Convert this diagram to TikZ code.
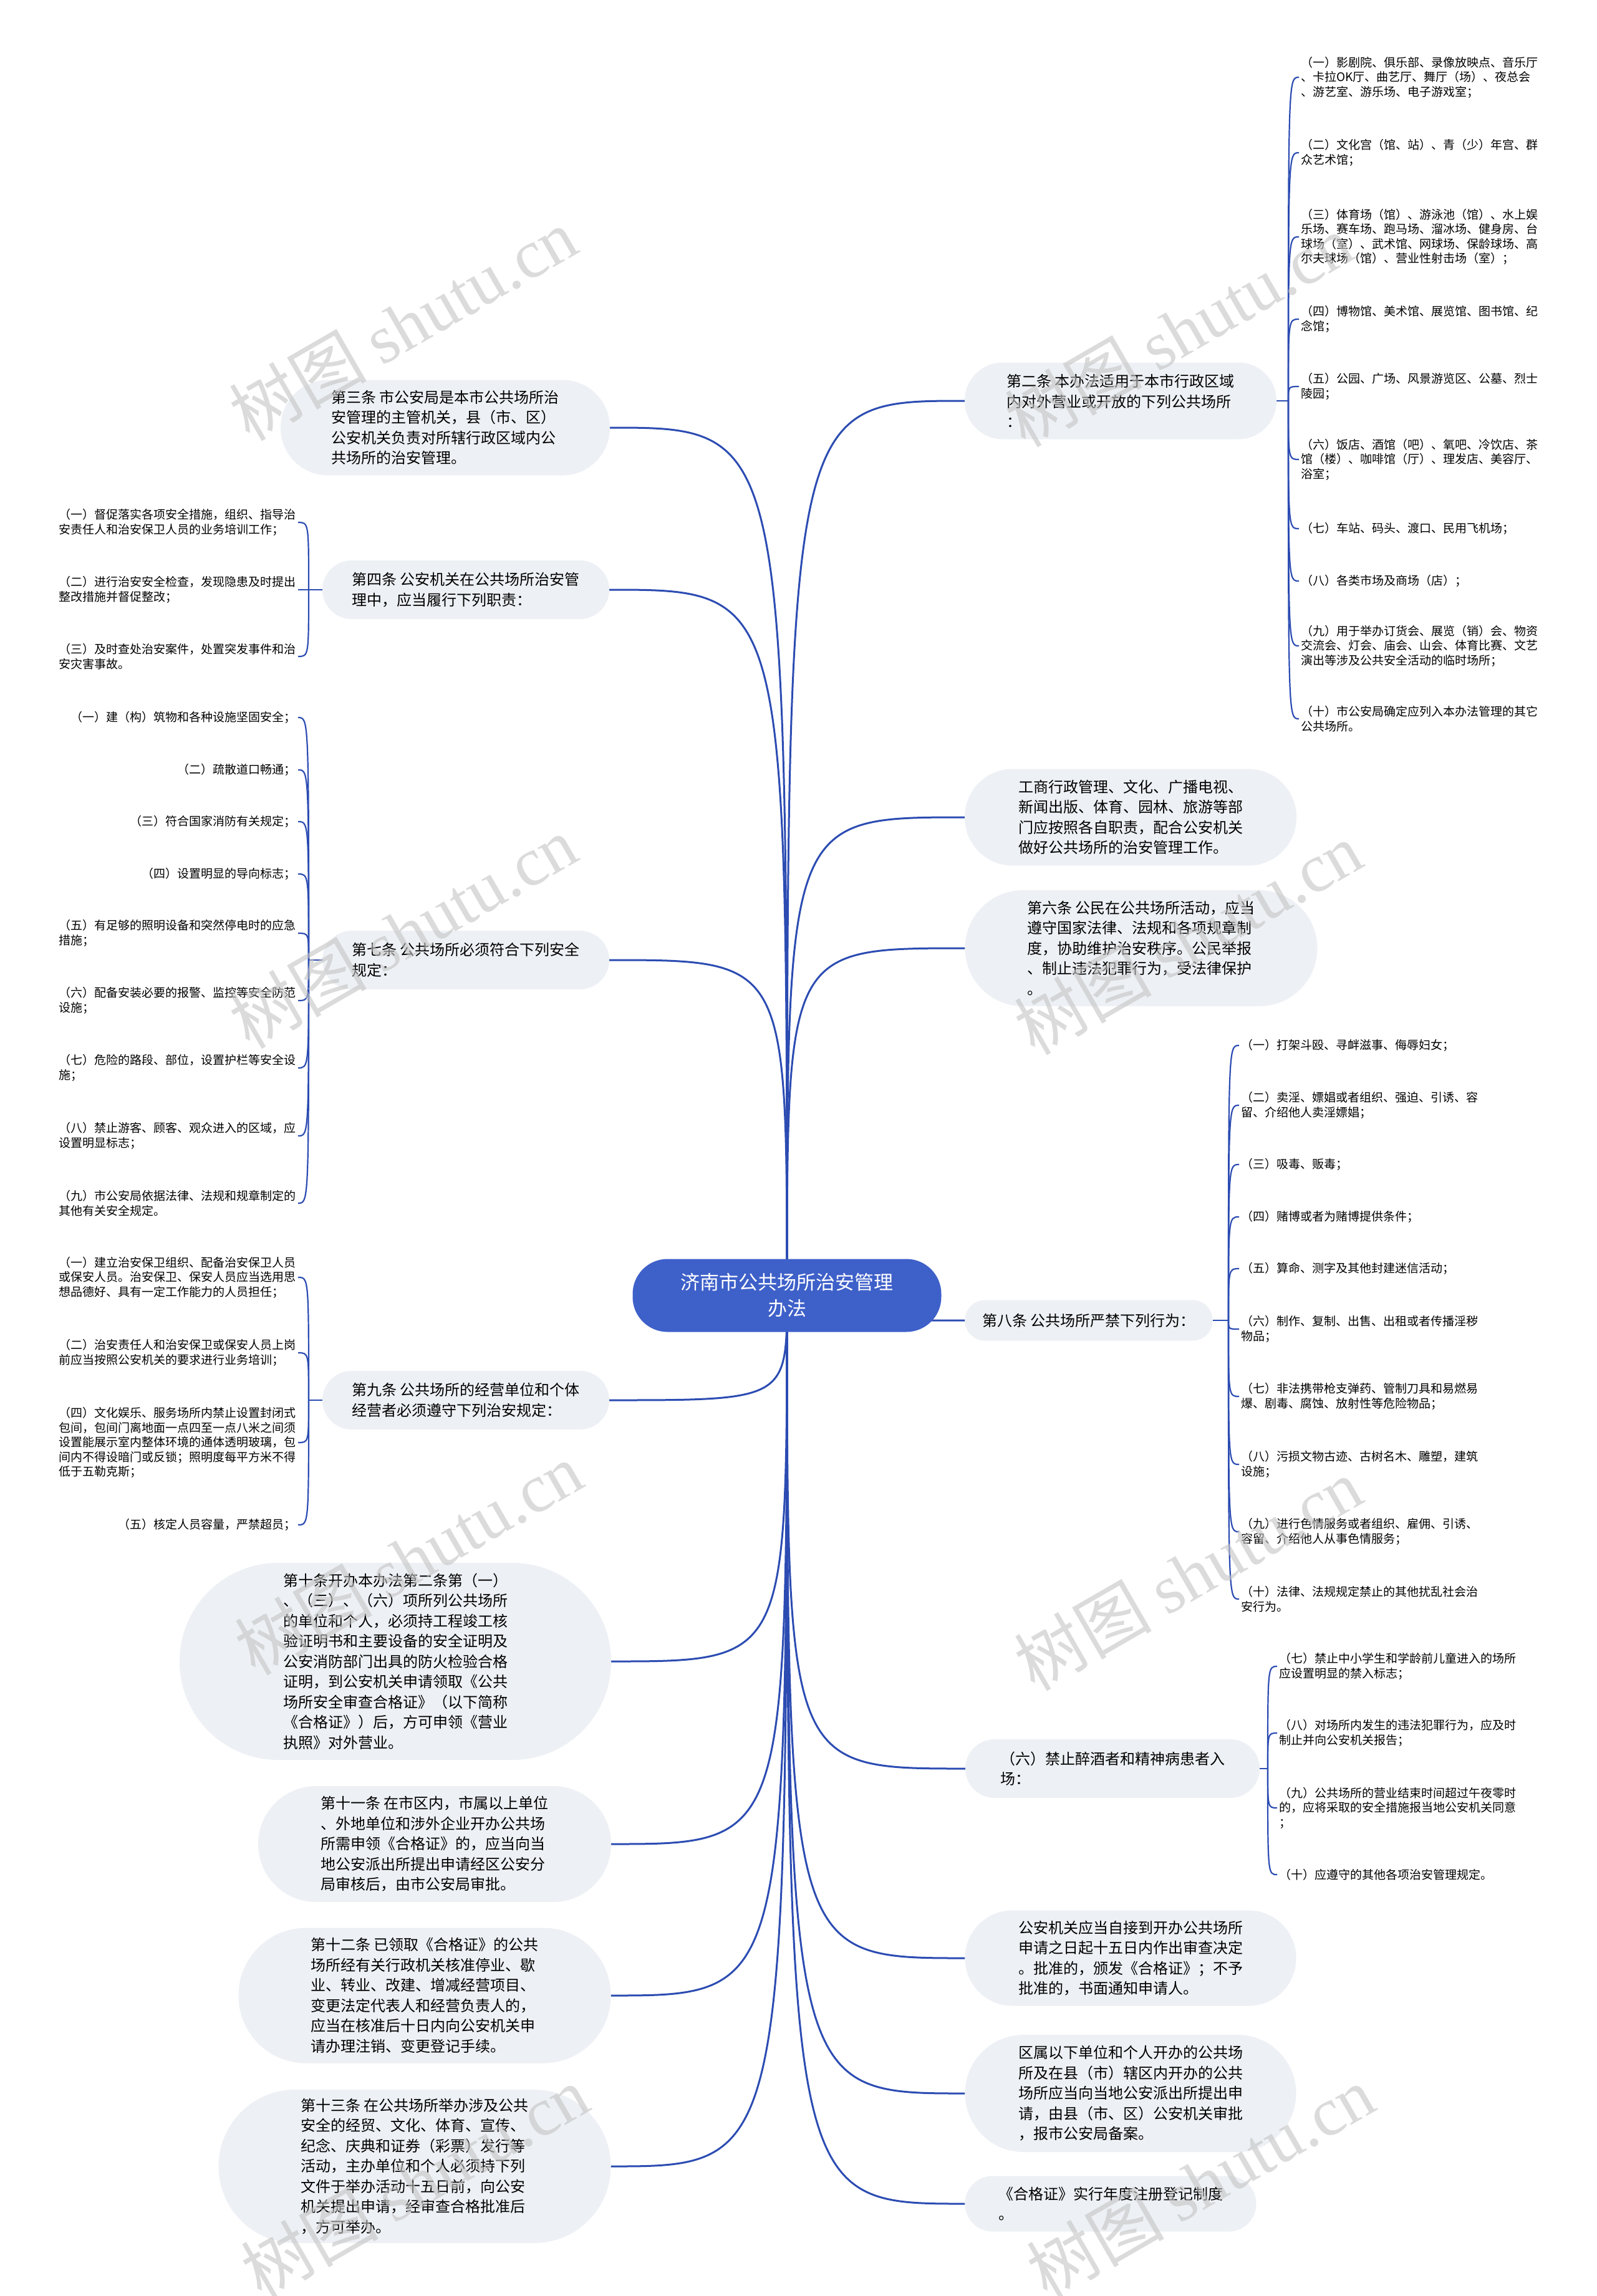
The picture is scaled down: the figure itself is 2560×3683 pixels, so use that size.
\documentclass[tikz,border=0pt]{standalone}
\usepackage{fontspec}
\setmainfont{Noto Sans CJK SC}
\newfontfamily\wmlatin{Liberation Serif}
\usetikzlibrary{positioning,calc,backgrounds}

\definecolor{rootblue}{HTML}{3E60C9}
\definecolor{linkblue}{HTML}{2C4CB2}
\definecolor{pillgray}{HTML}{EDF0F4}
\definecolor{markgray}{HTML}{C4C4C4}

\tikzset{
  root/.style={fill=rootblue, text=white, rounded corners=56, inner sep=0,
    minimum width=495, minimum height=117, align=center,
    font=\fontsize{31}{42}\selectfont},
  topic/.style={fill=pillgray, inner sep=0, align=left,
    font=\fontsize{24}{32.5}\selectfont},
  pill/.style n args={3}{topic, minimum width=#1, minimum height=#2, rounded corners=#3},
  leafl/.style={anchor=east, inner sep=3, align=left,
    font=\fontsize{19}{23.5}\selectfont},
  leafr/.style={anchor=west, inner sep=3, align=left,
    font=\fontsize{19}{23.5}\selectfont},
  branch/.style={draw=linkblue, line width=3},
  twig/.style={draw=linkblue, line width=2.2},
  watermark/.style={text=markgray, opacity=0.6, rotate=30,
    font=\fontsize{110}{110}\selectfont}
}

\begin{document}
\begin{tikzpicture}[x=1pt,y=-1pt]
  \useasboundingbox (0,0) rectangle (2560,3683);

  % 中心主题
  \node[root] (root) at (1262,2078) {济南市公共场所治安管理\\办法};

  % 左侧主题
  \node[pill={528}{153}{76}] (art3) at (714,686) {第三条 市公安局是本市公共场所治\\安管理的主管机关，县（市、区）\\公安机关负责对所辖行政区域内公\\共场所的治安管理。};
  \node[pill={460}{94}{47}] (art4) at (747,946) {第四条 公安机关在公共场所治安管\\理中，应当履行下列职责：};
  \node[pill={460}{94}{47}] (art7) at (747,1540) {第七条 公共场所必须符合下列安全\\规定：};
  \node[pill={460}{94}{47}] (art9) at (747,2246) {第九条 公共场所的经营单位和个体\\经营者必须遵守下列治安规定：};
  \node[pill={692}{316}{158}] (art10) at (634,2665) {第十条开办本办法第二条第（一）\\、（三）、（六）项所列公共场所\\的单位和个人，必须持工程竣工核\\验证明书和主要设备的安全证明及\\公安消防部门出具的防火检验合格\\证明，到公安机关申请领取《公共\\场所安全审查合格证》（以下简称\\《合格证》）后，方可申领《营业\\执照》对外营业。};
  \node[pill={566}{186}{93}] (art11) at (697,2958) {第十一条 在市区内，市属以上单位\\、外地单位和涉外企业开办公共场\\所需申领《合格证》的，应当向当\\地公安派出所提出申请经区公安分\\局审核后，由市公安局审批。};
  \node[pill={597}{217}{108}] (art12) at (681,3201) {第十二条 已领取《合格证》的公共\\场所经有关行政机关核准停业、歇\\业、转业、改建、增减经营项目、\\变更法定代表人和经营负责人的，\\应当在核准后十日内向公安机关申\\请办理注销、变更登记手续。};
  \node[pill={629}{246}{123}] (art13) at (665,3475) {第十三条 在公共场所举办涉及公共\\安全的经贸、文化、体育、宣传、\\纪念、庆典和证券（彩票）发行等\\活动，主办单位和个人必须持下列\\文件于举办活动十五日前，向公安\\机关提出申请，经审查合格批准后\\，方可举办。};

  % 右侧主题
  \node[pill={500}{123}{61}] (art2) at (1797,643) {第二条 本办法适用于本市行政区域\\内对外营业或开放的下列公共场所\\：};
  \node[pill={532}{155}{77}] (dept) at (1813,1311) {工商行政管理、文化、广播电视、\\新闻出版、体育、园林、旅游等部\\门应按照各自职责，配合公安机关\\做好公共场所的治安管理工作。};
  \node[pill={565}{186}{93}] (art6) at (1830,1521) {第六条 公民在公共场所活动，应当\\遵守国家法律、法规和各项规章制\\度，协助维护治安秩序。公民举报\\、制止违法犯罪行为，受法律保护\\。};
  \node[pill={397}{65}{32}] (art8) at (1746,2118) {第八条 公共场所严禁下列行为：};
  \node[pill={472}{94}{47}] (bansix) at (1784,2837) {（六）禁止醉酒者和精神病患者入\\场：};
  \node[pill={531}{153}{76}] (review) at (1813,3141) {公安机关应当自接到开办公共场所\\申请之日起十五日内作出审查决定\\。批准的，颁发《合格证》；不予\\批准的，书面通知申请人。};
  \node[pill={531}{188}{94}] (county) at (1813,3358) {区属以下单位和个人开办的公共场\\所及在县（市）辖区内开办的公共\\场所应当向当地公安派出所提出申\\请，由县（市、区）公安机关审批\\，报市公安局备案。};
  \node[pill={467}{89}{44}] (cert) at (1781,3535) {《合格证》实行年度注册登记制度\\。};

  % 第二条 分项
  \node[leafr] (art2a) at (2083,124) {（一）影剧院、俱乐部、录像放映点、音乐厅\\、卡拉OK厅、曲艺厅、舞厅（场）、夜总会\\、游艺室、游乐场、电子游戏室；};
  \node[leafr] (art2b) at (2083,245) {（二）文化宫（馆、站）、青（少）年宫、群\\众艺术馆；};
  \node[leafr] (art2c) at (2083,380) {（三）体育场（馆）、游泳池（馆）、水上娱\\乐场、赛车场、跑马场、溜冰场、健身房、台\\球场（室）、武术馆、网球场、保龄球场、高\\尔夫球场（馆）、营业性射击场（室）；};
  \node[leafr] (art2d) at (2083,512) {（四）博物馆、美术馆、展览馆、图书馆、纪\\念馆；};
  \node[leafr] (art2e) at (2083,620) {（五）公园、广场、风景游览区、公墓、烈士\\陵园；};
  \node[leafr] (art2f) at (2083,737) {（六）饭店、酒馆（吧）、氧吧、冷饮店、茶\\馆（楼）、咖啡馆（厅）、理发店、美容厅、\\浴室；};
  \node[leafr] (art2g) at (2083,848) {（七）车站、码头、渡口、民用飞机场；};
  \node[leafr] (art2h) at (2083,932) {（八）各类市场及商场（店）；};
  \node[leafr] (art2i) at (2083,1036) {（九）用于举办订货会、展览（销）会、物资\\交流会、灯会、庙会、山会、体育比赛、文艺\\演出等涉及公共安全活动的临时场所；};
  \node[leafr] (art2j) at (2083,1153) {（十）市公安局确定应列入本办法管理的其它\\公共场所。};

  % 第四条 分项
  \node[leafl] (art4a) at (478,838) {（一）督促落实各项安全措施，组织、指导治\\安责任人和治安保卫人员的业务培训工作；};
  \node[leafl] (art4b) at (478,946) {（二）进行治安安全检查，发现隐患及时提出\\整改措施并督促整改；};
  \node[leafl] (art4c) at (478,1053) {（三）及时查处治安案件，处置突发事件和治\\安灾害事故。};

  % 第七条 分项
  \node[leafl] (art7a) at (478,1151) {（一）建（构）筑物和各种设施坚固安全；};
  \node[leafl] (art7b) at (478,1235) {（二）疏散道口畅通；};
  \node[leafl] (art7c) at (478,1318) {（三）符合国家消防有关规定；};
  \node[leafl] (art7d) at (478,1402) {（四）设置明显的导向标志；};
  \node[leafl] (art7e) at (478,1497) {（五）有足够的照明设备和突然停电时的应急\\措施；};
  \node[leafl] (art7f) at (478,1605) {（六）配备安装必要的报警、监控等安全防范\\设施；};
  \node[leafl] (art7g) at (478,1713) {（七）危险的路段、部位，设置护栏等安全设\\施；};
  \node[leafl] (art7h) at (478,1822) {（八）禁止游客、顾客、观众进入的区域，应\\设置明显标志；};
  \node[leafl] (art7i) at (478,1930) {（九）市公安局依据法律、法规和规章制定的\\其他有关安全规定。};

  % 第九条 分项
  \node[leafl] (art9a) at (478,2049) {（一）建立治安保卫组织、配备治安保卫人员\\或保安人员。治安保卫、保安人员应当选用思\\想品德好、具有一定工作能力的人员担任；};
  \node[leafl] (art9b) at (478,2170) {（二）治安责任人和治安保卫或保安人员上岗\\前应当按照公安机关的要求进行业务培训；};
  \node[leafl] (art9c) at (478,2314) {（四）文化娱乐、服务场所内禁止设置封闭式\\包间，包间门离地面一点四至一点八米之间须\\设置能展示室内整体环境的通体透明玻璃，包\\间内不得设暗门或反锁；照明度每平方米不得\\低于五勒克斯；};
  \node[leafl] (art9d) at (478,2446) {（五）核定人员容量，严禁超员；};

  % 第八条 分项
  \node[leafr] (art8a) at (1987,1677) {（一）打架斗殴、寻衅滋事、侮辱妇女；};
  \node[leafr] (art8b) at (1987,1773) {（二）卖淫、嫖娼或者组织、强迫、引诱、容\\留、介绍他人卖淫嫖娼；};
  \node[leafr] (art8c) at (1987,1868) {（三）吸毒、贩毒；};
  \node[leafr] (art8d) at (1987,1952) {（四）赌博或者为赌博提供条件；};
  \node[leafr] (art8e) at (1987,2035) {（五）算命、测字及其他封建迷信活动；};
  \node[leafr] (art8f) at (1987,2132) {（六）制作、复制、出售、出租或者传播淫秽\\物品；};
  \node[leafr] (art8g) at (1987,2240) {（七）非法携带枪支弹药、管制刀具和易燃易\\爆、剧毒、腐蚀、放射性等危险物品；};
  \node[leafr] (art8h) at (1987,2349) {（八）污损文物古迹、古树名木、雕塑，建筑\\设施；};
  \node[leafr] (art8i) at (1987,2457) {（九）进行色情服务或者组织、雇佣、引诱、\\容留、介绍他人从事色情服务；};
  \node[leafr] (art8j) at (1987,2565) {（十）法律、法规规定禁止的其他扰乱社会治\\安行为。};

  % （六）禁止入场 分项
  \node[leafr] (bansixa) at (2048,2673) {（七）禁止中小学生和学龄前儿童进入的场所\\应设置明显的禁入标志；};
  \node[leafr] (bansixb) at (2048,2780) {（八）对场所内发生的违法犯罪行为，应及时\\制止并向公安机关报告；};
  \node[leafr] (bansixc) at (2048,2900) {（九）公共场所的营业结束时间超过午夜零时\\的，应将采取的安全措施报当地公安机关同意\\；};
  \node[leafr] (bansixd) at (2048,3007) {（十）应遵守的其他各项治安管理规定。};

  % 汇合点
  \coordinate (j2) at (2066,643);
  \coordinate (j4) at (495,946);
  \coordinate (j7) at (495,1540);
  \coordinate (j9) at (495,2246);
  \coordinate (j8) at (1970,2118);
  \coordinate (j6) at (2033,2837);

  \begin{scope}[on background layer]
    \fill[white] (0,0) rectangle (2560,3683);
    % 主干
    \foreach \t in {art3,art4,art7,art9,art10,art11,art12,art13}
      \draw[branch] (root.center) .. controls (root.center |- \t.east) .. (\t.east);
    \foreach \t in {art2,dept,art6,art8,bansix,review,county,cert}
      \draw[branch] (root.center) .. controls (root.center |- \t.west) .. (\t.west);
    % 分支
    \draw[twig] (art2.east) -- (j2);
    \foreach \k in {a,...,j}
      \draw[twig] (j2) .. controls (j2 |- art2\k.west) .. (art2\k.west);
    \draw[twig] (art8.east) -- (j8);
    \foreach \k in {a,...,j}
      \draw[twig] (j8) .. controls (j8 |- art8\k.west) .. (art8\k.west);
    \draw[twig] (bansix.east) -- (j6);
    \foreach \k in {a,...,d}
      \draw[twig] (j6) .. controls (j6 |- bansix\k.west) .. (bansix\k.west);
    \draw[twig] (art4.west) -- (j4);
    \foreach \k in {a,...,c}
      \draw[twig] (j4) .. controls (j4 |- art4\k.east) .. (art4\k.east);
    \draw[twig] (art7.west) -- (j7);
    \foreach \k in {a,...,i}
      \draw[twig] (j7) .. controls (j7 |- art7\k.east) .. (art7\k.east);
    \draw[twig] (art9.west) -- (j9);
    \foreach \k in {a,...,d}
      \draw[twig] (j9) .. controls (j9 |- art9\k.east) .. (art9\k.east);
  \end{scope}

  % 水印
  \foreach \wx/\wy in {646/520,1890/530,646/1495,1905/1505,655/2500,1905/2525,665/3500,1925/3500}
    \node[watermark] at (\wx,\wy) {树图 {\wmlatin shutu.cn}};
\end{tikzpicture}
\end{document}
